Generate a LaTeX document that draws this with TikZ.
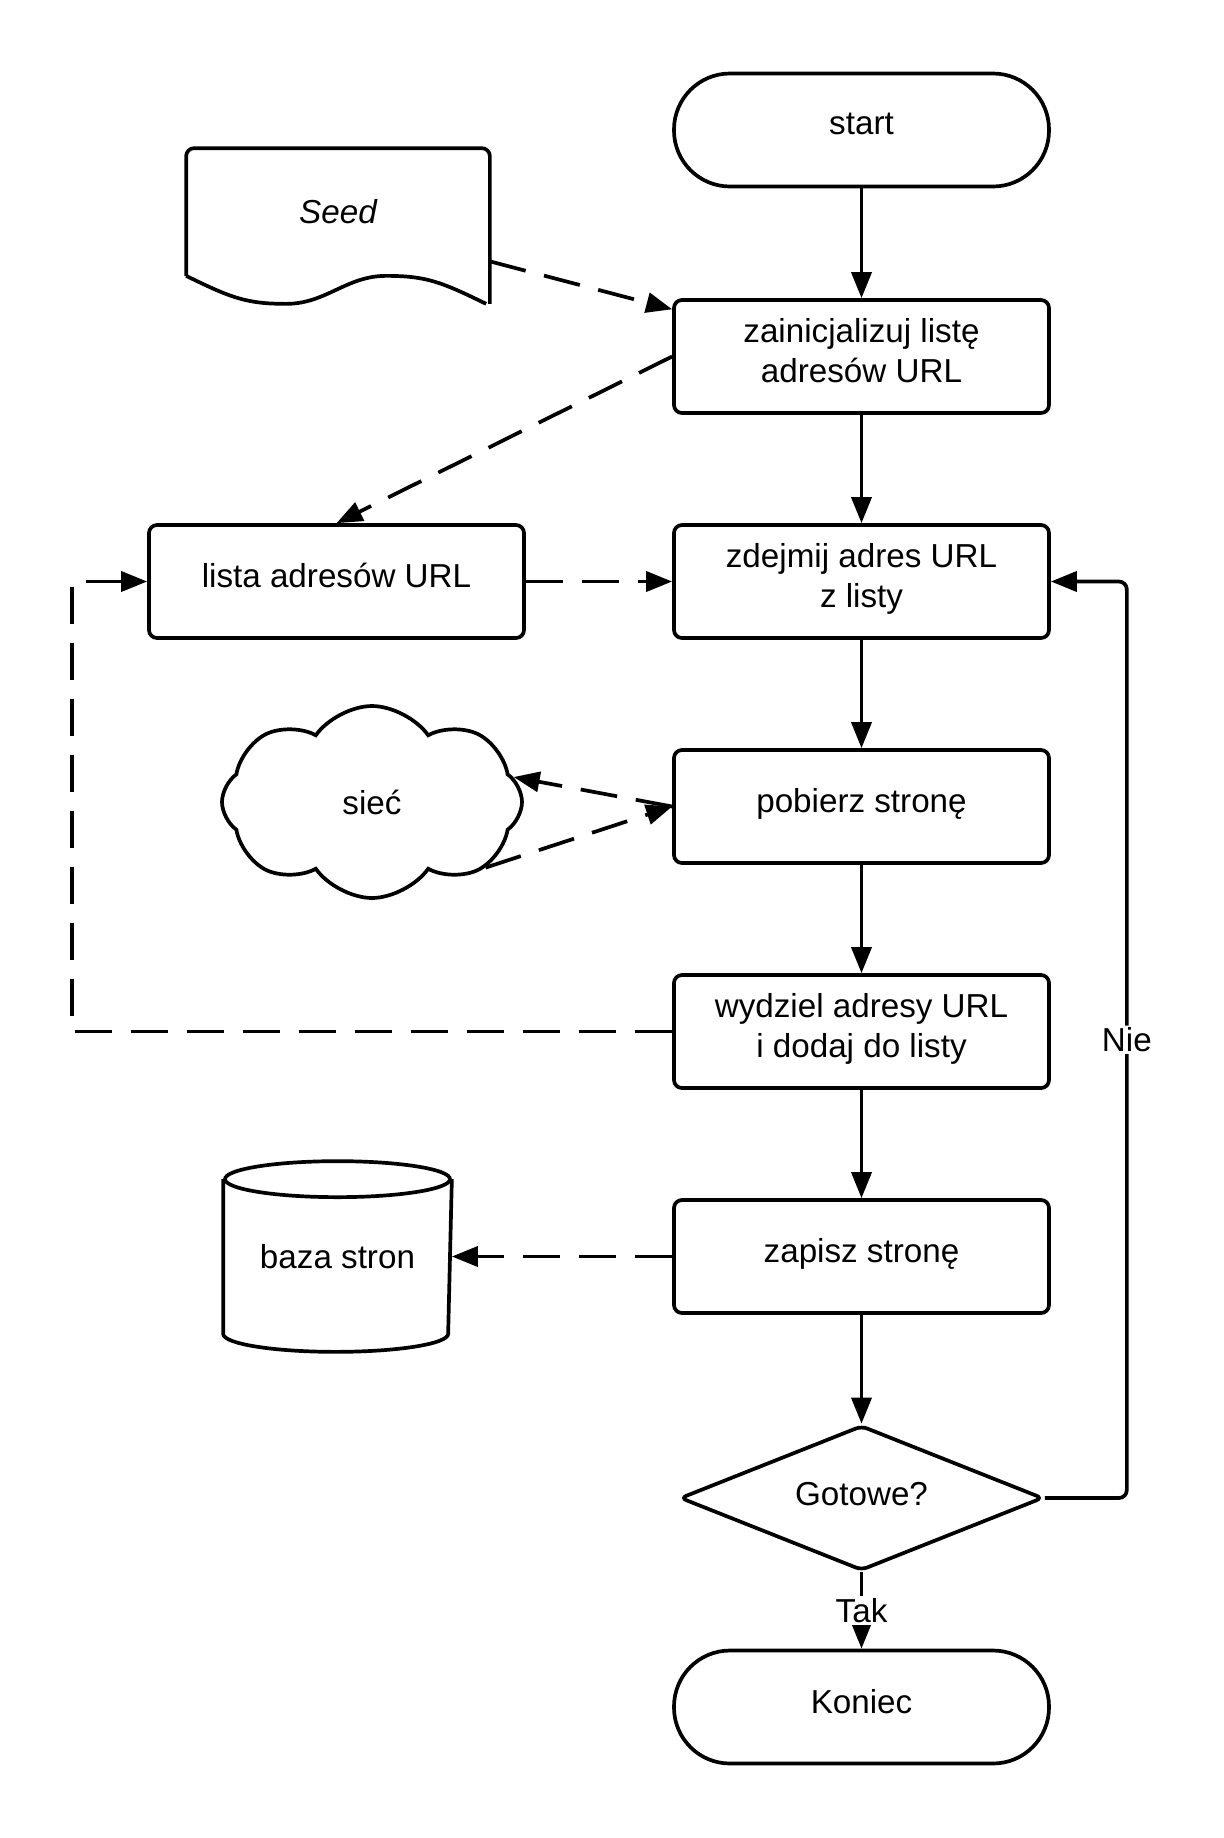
\documentclass[tikz,border=0pt]{standalone}
\usepackage{fontspec}
\setmainfont{Liberation Sans}
\usetikzlibrary{arrows.meta,shapes.geometric,shapes.symbols}

\begin{document}
\begin{tikzpicture}
  [x=0.5pt,y=-0.5pt,line width=1.85pt,
   every node/.style={font=\fontsize{16.6}{20}\selectfont,align=center},
   box/.style={draw,rectangle,rounded corners=4pt,text depth=6pt,minimum width=187.5pt,minimum height=56.5pt},
   term/.style={box,rounded corners=28pt},
   decision/.style={draw,diamond,rounded corners=3pt,text depth=4pt,aspect=2.5,inner sep=0pt,minimum width=181.5pt,minimum height=72.5pt},
   flow/.style={-{Triangle[length=13pt,width=10pt]}},
   data/.style={flow,dash pattern=on 18.5pt off 9.5pt},
   answer/.style={fill=white,inner sep=1pt}]
  \useasboundingbox (0,0) rectangle (1224,1838);

  \node[term] (start) at (861.5,130) {start};
  \node[box] (init) at (861.5,356.5) {zainicjalizuj listę\\adresów URL};
  \node[box] (lista) at (336.5,581.5) {lista adresów URL};
  \node[box] (pop) at (861.5,581.5) {zdejmij adres URL\\z listy};
  \node[box] (get) at (861.5,806.5) {pobierz stronę};
  \node[box] (parse) at (861.5,1031.5) {wydziel adresy URL\\i dodaj do listy};
  \node[box] (save) at (861.5,1256.5) {zapisz stronę};
  \node[decision] (done) at (861.5,1498) {Gotowe?};
  \node[term] (koniec) at (861.5,1707) {Koniec};

  % seed document
  \node[minimum width=150pt,minimum height=62pt] (seed) at (338,212) {\itshape Seed};
  \draw[rounded corners=4pt] (seed.south west) -- (seed.north west) -- (seed.north east) -- ([yshift=-14pt]seed.south east);
  \draw (seed.south west) .. controls +(45,22) and +(-40,0) .. ++(100,28)
    .. controls +(40,0) and +(-40,0) .. ++(100,-28)
    .. controls +(40,0) and +(-45,-22) .. ++(100,28);

  % web
  \node[draw,cloud,cloud puffs=8,cloud puff arc=110,aspect=1.6,minimum width=150pt,minimum height=96pt] (siec) at (372,802) {sieć};

  % page store
  \node[minimum width=112.5pt,minimum height=93.5pt] (baza) at (337.5,1256.5) {baza stron};
  \draw ([yshift=-9pt]baza.north) ellipse [x radius=56.25pt,y radius=9pt];
  \draw ([yshift=-9pt]baza.north west) -- ([yshift=9pt]baza.south west)
    arc [start angle=180,end angle=360,x radius=56.25pt,y radius=9pt] -- ([yshift=-9pt]baza.north east);

  \foreach \from/\to in {start/init, init/pop, pop/get, get/parse, parse/save, save/done}
    \draw [flow] (\from) -- (\to);

  \draw[flow] (done.south) -- node[answer]{Tak} (koniec.north);
  \draw[flow,rounded corners=4pt] (done.east) -- ++(82,0) |- node[pos=0.25,answer]{Nie} (pop.east);

  \draw[data] (seed.-18) -- (init.166);
  \draw[data] (init.west) -- (lista.north);
  \draw[data] (lista) -- (pop);
  \draw[data] (get.west) -- (siec.10);
  \draw[data] (siec.-30) -- (get.west);
  \draw[data] (parse.west) -- ++(-600,0) |- (lista.west);
  \draw[data] (save) -- (baza);

\end{tikzpicture}
\end{document}
